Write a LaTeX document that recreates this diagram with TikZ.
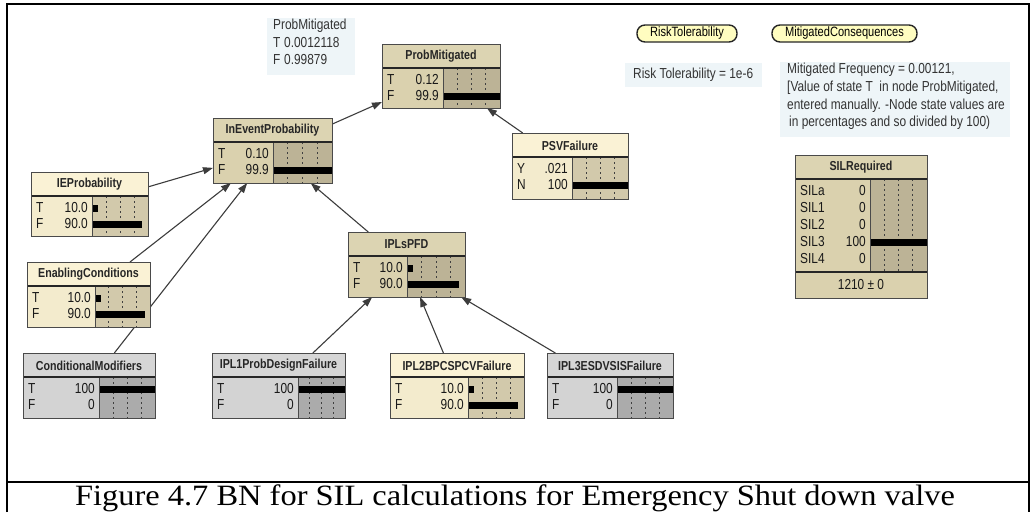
\documentclass[tikz,border=0pt]{standalone}
\usepackage{fontspec}
\setmainfont{Liberation Serif}
\newfontfamily\nf[FakeStretch=0.82]{Liberation Sans}
\newfontfamily\capfont[FakeStretch=1.1]{Liberation Serif}
\usetikzlibrary{arrows.meta}
\pgfdeclarelayer{edges}
\pgfsetlayers{edges,main}

\definecolor{tanhead}{HTML}{DCD4B2}
\definecolor{tanbody}{HTML}{DAD1AE}
\definecolor{tanbar}{HTML}{BCB396}
\definecolor{creamhead}{HTML}{FAF2D5}
\definecolor{creambody}{HTML}{F3EBCD}
\definecolor{creambar}{HTML}{D2C9AB}
\definecolor{greyhead}{HTML}{D6D6D6}
\definecolor{greybody}{HTML}{D3D3D3}
\definecolor{greybar}{HTML}{ABABAB}
\definecolor{boxline}{HTML}{4A4A4A}
\definecolor{notebg}{HTML}{EEF5F8}
\definecolor{notetext}{HTML}{333333}
\definecolor{pill}{HTML}{FFFDC0}
\definecolor{edgecol}{HTML}{3C3C3C}

\tikzset{
  bnframe/.style={rectangle, inner sep=0pt, outer sep=0pt},
  link/.style={draw=edgecol, line width=1.1pt, -{Triangle[length=10pt,width=7pt]}},
  boxtitle/.style={font=\nf\bfseries\fontsize{13}{15}\selectfont, text=black!85, inner sep=0pt},
  cell/.style={font=\nf\fontsize{14.5}{16}\selectfont, text=black!90, inner sep=0pt},
  note/.style={font=\nf\fontsize{14.5}{16}\selectfont, text=notetext, inner sep=0pt, anchor=west},
  pillbox/.style={draw=black!85, line width=1.4pt, fill=pill, rounded corners=8pt,
    inner sep=0pt, font=\nf\fontsize{13.5}{15}\selectfont},
  gridtick/.style={draw=black!75, line width=0.8pt, dash pattern=on 2pt off 3pt},
}

% vertical distance between state rows
\newcommand\bnpitch{16}
% #1 name, #2 left, #3 top, #4 right, #5 bottom, #6 bar start,
% #7 palette, #8 title, #9 rows label/value/percent
\newcommand{\bnbox}[9]{%
  \pgfmathsetmacro\bnD{#3+24}%
  \pgfmathsetmacro\bnW{#4-#6}%
  \node[bnframe, minimum width={(#4-#2)*1pt}, minimum height={(#5-#3)*1pt}]
    (#1) at ({(#2+#4)/2},{(#3+#5)/2}) {};
  \fill[#7body] (#2,\bnD) rectangle (#4,#5);
  \fill[#7head] (#2,#3) rectangle (#4,\bnD);
  \fill[#7bar] (#6,\bnD) rectangle (#4,#5);
  \foreach \k in {1,2,3}
    \draw[gridtick] ({#6+\k*\bnW/4},\bnD) -- ({#6+\k*\bnW/4},#5);
  \node[boxtitle] at ({(#2+#4)/2},{#3+12.5}) {#8};
  \foreach \lab/\val/\pct [count=\i] in {#9} {
    \pgfmathsetmacro\ry{\bnD+12+(\i-1)*\bnpitch}
    \node[cell, anchor=west] at (#2+5,\ry) {\lab};
    \node[cell, anchor=east] at (#6-4,\ry) {\val};
    \fill[black] (#6,\ry-3.5) rectangle ({#6+\pct*\bnW/100},\ry+3.5);
  }
  \draw[boxline, line width=0.9pt] (#6,\bnD) -- (#6,#5);
  \draw[black!85, line width=1.6pt] (#2,\bnD) -- (#4,\bnD);
  \draw[boxline, line width=1pt] (#2,#3) rectangle (#4,#5);
}

\begin{document}
\begin{tikzpicture}[x=1pt, y=-1pt]
\useasboundingbox (0,0) rectangle (1031,512);

% page frame and caption row
\draw[line width=2pt] (7,512) -- (7,4) -- (1029,4) -- (1029,512);
\draw[line width=2pt] (7,482) -- (1029,482);
\node[font=\capfont\fontsize{29.5}{33}\selectfont, anchor=base, inner sep=0pt] (caption) at (515,505)
  {Figure 4.7 BN for SIL calculations for Emergency Shut down valve};

% network nodes
\bnbox{probmit}{382}{44}{500}{108}{443}{tan}{ProbMitigated}{T/0.12/0.12, F/99.9/99.9}
\bnbox{inevent}{213}{118}{332}{183}{273}{tan}{InEventProbability}{T/0.10/0.10, F/99.9/99.9}
\bnbox{ieprob}{31}{172}{148}{236}{92}{cream}{IEProbability}{T/10.0/10, F/90.0/90}
\bnbox{psv}{512}{133}{628}{199}{572}{cream}{PSVFailure}{Y/.021/0.021, N/100/100}
\bnbox{iplspfd}{348}{232}{465}{297}{407}{tan}{IPLsPFD}{T/10.0/10, F/90.0/90}
\bnbox{enabling}{27}{262}{150}{327}{95}{cream}{EnablingConditions}{T/10.0/10, F/90.0/90}
\bnbox{condmod}{23}{353}{155}{418}{99}{grey}{ConditionalModifiers}{T/100/100, F/0/0}
\bnbox{ipla}{212}{353}{345}{418}{298}{grey}{IPL1ProbDesignFailure}{T/100/100, F/0/0}
\bnbox{iplb}{390}{353}{524}{418}{468}{cream}{IPL2BPCSPCVFailure}{T/10.0/10, F/90.0/90}
\bnbox{iplc}{547}{353}{673}{418}{617}{grey}{IPL3ESDVSISFailure}{T/100/100, F/0/0}

\renewcommand\bnpitch{17}
\bnbox{sil}{795}{155}{927}{298}{870}{tan}{SILRequired}%
  {SILa/0/0, SIL1/0/0, SIL2/0/0, SIL3/100/100, SIL4/0/0}
% expected-value footer of SILRequired
\fill[tanbody] (795,272) rectangle (927,298);
\draw[black!85, line width=1.6pt] (795,272) -- (927,272);
\draw[boxline, line width=1pt] (795,155) rectangle (927,298);
\node[cell] (silmean) at (861,285) {1210 ± 0};

% constants drawn as pills
\node[pillbox, minimum width=100pt, minimum height=17pt] (risk) at (687,33.5) {RiskTolerability};
\node[pillbox, minimum width=145pt, minimum height=17pt] (mitcons) at (844.5,33.5) {MitigatedConsequences};

% notes
\fill[notebg] (267,18) rectangle (355,75);
\node[note] (n1) at (273,26) {ProbMitigated};
\node[note] (n2) at (273,43) {T};
\node[note] (n3) at (284,43) {0.0012118};
\node[note] (n4) at (273,60) {F};
\node[note] (n5) at (284,60) {0.99879};

\fill[notebg] (625,63) rectangle (762,87);
\node[note] (n6) at (633,75) {Risk Tolerability = 1e-6};

\fill[notebg] (780,62) rectangle (1010,137);
\node[note] (n7) at (787,70) {Mitigated Frequency = 0.00121,};
\node[note] (n8) at (787,88) {[Value of state T\ \ in node ProbMitigated,};
\node[note] (n9) at (787,106) {entered manually. -Node state values are};
\node[note] (n10) at (789,123) {in percentages and so divided by 100)};

% links between nodes
\begin{pgfonlayer}{edges}
\draw[link] (inevent) -- (probmit);
\draw[link] (psv) -- (probmit);
\draw[link] (ieprob) -- (inevent);
\draw[link] (enabling) -- (inevent);
\draw[link] (condmod) -- (inevent);
\draw[link] (iplspfd) -- (inevent);
\draw[link] (ipla) -- (iplspfd);
\draw[link] (iplb) -- (iplspfd);
\draw[link] (iplc) -- (iplspfd);
\end{pgfonlayer}
\end{tikzpicture}
\end{document}
